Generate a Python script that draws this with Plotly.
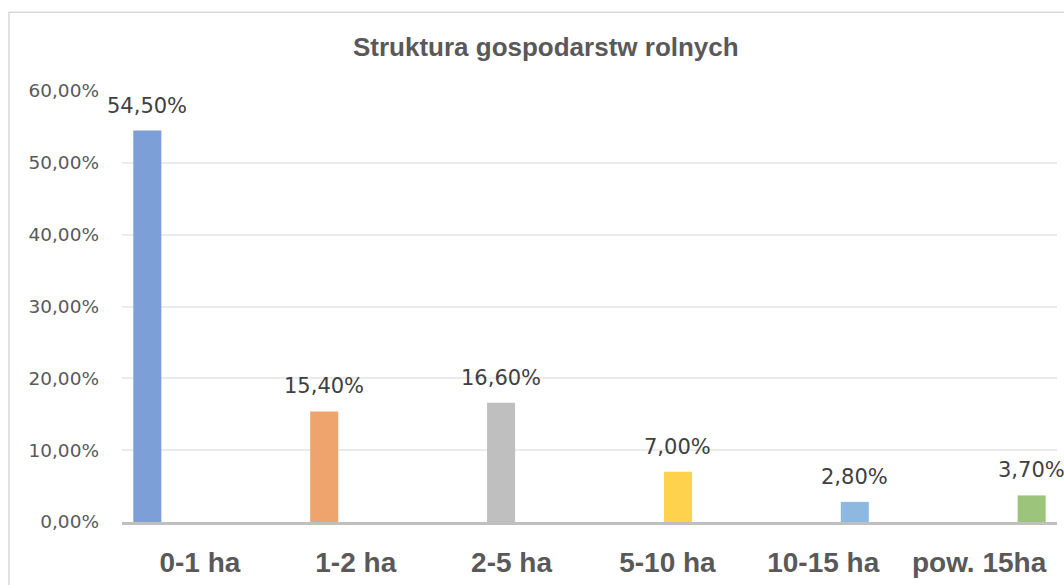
import plotly.graph_objects as go

categories = ["0-1 ha", "1-2 ha", "2-5 ha", "5-10 ha", "10-15 ha", "pow. 15ha"]
values = [54.5, 15.4, 16.6, 7.0, 2.8, 3.7]
labels = ["54,50%", "15,40%", "16,60%", "7,00%", "2,80%", "3,70%"]
colors = ["#7b9fd6", "#f0a46d", "#bfbfbf", "#ffd24d", "#8db9e1", "#9dc47b"]
ytick_vals = [0, 10, 20, 30, 40, 50, 60]
ytick_text = ["0,00%", "10,00%", "20,00%", "30,00%", "40,00%", "50,00%", "60,00%"]

BARGAP = 0.19
BARW = 0.18
n = len(categories)
slot = (1 - BARGAP) / n

fig = go.Figure()
for k in range(n):
    xc_off = -(1 - BARGAP) / 2 + (k + 0.5) * slot
    fig.add_trace(go.Bar(
        x=[k], y=[values[k]], name=categories[k],
        marker=dict(color=colors[k], line=dict(width=0)),
        width=BARW, offset=xc_off - BARW / 2,
        showlegend=False, hoverinfo="skip",
    ))
    fig.add_annotation(
        x=k + xc_off, y=values[k], text=labels[k], showarrow=False,
        yanchor="middle", yshift=25,
        font=dict(family="DejaVu Sans", size=21, color="#404040"),
    )

fig.update_layout(
    width=1064, height=585,
    margin=dict(l=122, r=7, t=91, b=61),
    paper_bgcolor="white", plot_bgcolor="white",
    barmode="overlay",
    title=dict(
        text="<b>Struktura gospodarstw rolnych</b>",
        x=0.513, xanchor="center", xref="container",
        y=1 - 47 / 585, yanchor="middle", yref="container",
        font=dict(family="Liberation Sans", size=26, color="#595959"),
    ),
    xaxis=dict(
        range=[-0.5, n - 0.5], tickvals=list(range(n)), ticktext=categories,
        showgrid=False, zeroline=False,
        showline=True, linecolor="#bfbfbf", linewidth=3,
        ticks="", ticklabelstandoff=13,
        tickfont=dict(family="Liberation Sans", size=28, color="#595959", weight="bold"),
    ),
    yaxis=dict(
        range=[0, 60], tickvals=ytick_vals, ticktext=ytick_text,
        showgrid=True, gridcolor="#ebebeb", gridwidth=1.5,
        zeroline=False, showline=False, ticks="", ticklabelstandoff=22,
        tickfont=dict(family="DejaVu Sans", size=18.5, color="#595959"),
    ),
    shapes=[dict(
        type="rect", xref="paper", yref="paper",
        x0=(9 - 122) / 935, x1=1.05, y0=-0.3, y1=(524 - 12) / 433,
        line=dict(color="#d9d9d9", width=1.5), fillcolor="rgba(0,0,0,0)", layer="below",
    )],
)

fig.write_html(
    "out.html",
    config={"displayModeBar": False},
    post_script="document.body.style.margin='0';document.body.style.overflow='hidden';",
)
